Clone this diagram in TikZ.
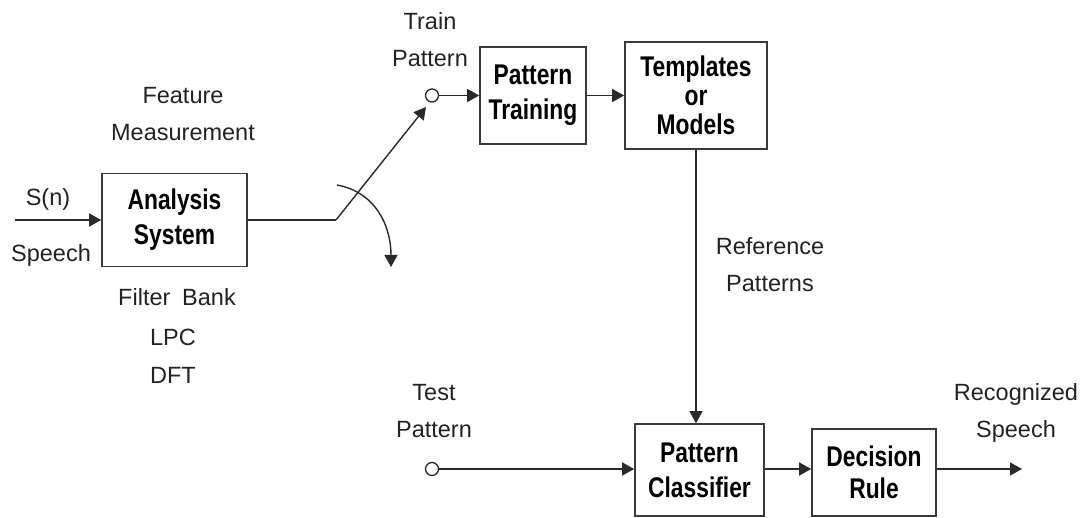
\documentclass[tikz,border=0pt]{standalone}
\usepackage{fontspec}
\setmainfont{Liberation Sans}
\newfontfamily\negrita[FakeStretch=0.8]{Liberation Sans Bold}
\usepackage{tikz}
\usetikzlibrary{arrows.meta,calc,positioning}
\definecolor{trazo}{HTML}{2A2A2A}
\definecolor{borde}{HTML}{3A3A3A}
\definecolor{tinta}{HTML}{222222}
\tikzset{
  bloque/.style={rectangle,draw=borde,fill=white,line width=1.6pt,inner sep=0pt,align=center,
    font=\negrita\fontsize{28.5}{35}\selectfont,text=black},
  etiqueta/.style={inner sep=0pt,align=center,font=\fontsize{23.5}{37}\selectfont,text=tinta},
  borne/.style={circle,draw=trazo,fill=white,line width=1.3pt,inner sep=0pt,minimum size=13pt},
  linea/.style={draw=trazo,line width=1.4pt},
  flecha/.style={linea,-{Triangle[length=12pt,width=13pt]}},
}
\begin{document}
\begin{tikzpicture}[x=1pt,y=-1pt]
\useasboundingbox (0,0) rectangle (1085,518);
% bloques
\node[bloque,minimum width=145pt,minimum height=93pt] (analisis) at (174.5,220) {Analysis\\System};
\node[bloque,minimum width=106pt,minimum height=97pt] (entrenamiento) at (533,95.5) {Pattern\\Training};
\node[bloque,minimum width=142pt,minimum height=107pt,font=\negrita\fontsize{28.5}{29}\selectfont] (plantillas) at (696,95.5) {Templates\\or\\Models};
\node[bloque,minimum width=129pt,minimum height=92pt] (clasif) at (699.5,470) {Pattern\\Classifier};
\node[bloque,minimum width=124pt,minimum height=87pt,font=\negrita\fontsize{28.5}{32}\selectfont] (decision) at (874,472.5) {Decision\\Rule};
% bornes de entrada
\node[borne] (entrena) at (432,95.5) {};
\node[borne] (prueba) at (432,469) {};
% textos
\node[etiqueta] (medida) at (183,114) {Feature\\Measurement};
\node[etiqueta] (sn) at (48,199) {S(n)};
\node[etiqueta] (voz) at (51,255) {Speech};
\node[etiqueta] (filtros) at (177,297) {Filter\enspace Bank};
\node[etiqueta] (lpc) at (173,337) {LPC};
\node[etiqueta] (dft) at (173,375) {DFT};
\node[etiqueta] (tren) at (430,40) {Train\\Pattern};
\node[etiqueta] (test) at (434,411) {Test\\Pattern};
\node[etiqueta] (refer) at (770,265) {Reference\\Patterns};
\node[etiqueta] (recon) at (1016,413) {Recognized\\Speech};
% puntos libres
\coordinate (entrada) at (15,220);
\coordinate (codo) at (336,220);
\coordinate (punta) at (426,107);
\coordinate (arco1) at (337,185);
\coordinate (arco2) at (391,267);
\coordinate (salida) at (1022,469);
% conexiones
\draw[flecha] (entrada) -- (analisis.west);
\draw[linea] (analisis.east) -- (codo);
\draw[flecha] (codo) -- (punta);
\draw[flecha] (arco1) .. controls (375,192) and (391,225) .. (arco2);
\draw[flecha] (entrena) -- (entrenamiento.west);
\draw[flecha] (entrenamiento) -- (plantillas);
\draw[flecha] (plantillas.south) -- (plantillas.south |- clasif.north);
\draw[flecha] (prueba) -- (clasif.west |- prueba);
\draw[flecha] (clasif.east |- prueba) -- (decision.west |- prueba);
\draw[flecha] (decision.east |- salida) -- (salida);
\end{tikzpicture}
\end{document}
